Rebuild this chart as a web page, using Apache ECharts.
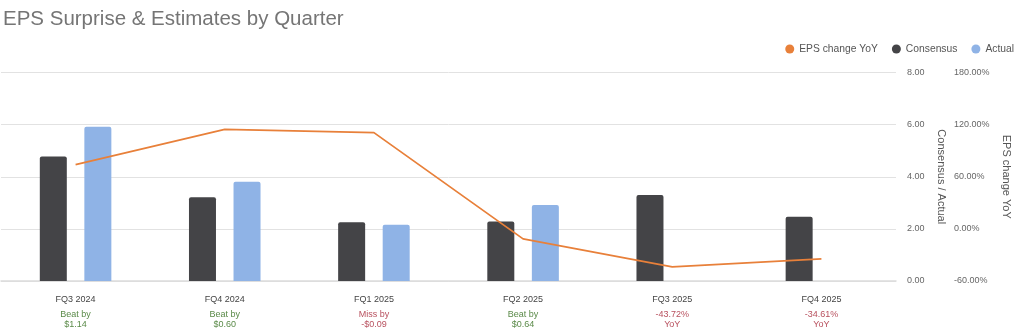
<!DOCTYPE html>
<html>
<head>
<meta charset="utf-8">
<script src="https://cdn.jsdelivr.net/npm/echarts@6/dist/echarts.min.js"></script>
<style>
  html, body { margin: 0; padding: 0; background: #fff; }
  #chart { width: 1024px; height: 336px; }
</style>
</head>
<body>
<div id="chart"></div>
<script>
// Quarterly EPS: consensus estimate, reported actual, and year-over-year change
const quarters = ['FQ3 2024', 'FQ4 2024', 'FQ1 2025', 'FQ2 2025', 'FQ3 2025', 'FQ4 2025'];
const consensus = [4.78, 3.21, 2.25, 2.28, 3.30, 2.47];
const actual = [5.92, 3.81, 2.16, 2.92, null, null];
const epsChangeYoY = [74.0, 114.6, 110.8, -11.5, -43.72, -34.61];

const leftTicks = { min: 0, max: 8, interval: 2 };
const rightTicks = { min: -60, max: 180, interval: 60 };

// Under each quarter: surprise vs. consensus if reported, otherwise the YoY change
function subLabel(i) {
  if (actual[i] != null) {
    const diff = Math.round((actual[i] - consensus[i]) * 100) / 100;
    const money = (diff < 0 ? '-$' : '$') + Math.abs(diff).toFixed(2);
    return diff >= 0 ? '{g|Beat by}\n{g|' + money + '}' : '{r|Miss by}\n{r|' + money + '}';
  }
  return '{r|' + epsChangeYoY[i].toFixed(2) + '%}\n{r|YoY}';
}

const chart = echarts.init(document.getElementById('chart'), null, { renderer: 'canvas' });
const font = 'Liberation Sans, Arial, sans-serif';

chart.setOption({
  animation: false,
  textStyle: { fontFamily: font },
  title: {
    text: 'EPS Surprise & Estimates by Quarter',
    left: -2, top: 4,
    textStyle: { fontFamily: font, fontSize: 20.5, fontWeight: 'normal', color: '#757575' }
  },
  legend: {
    right: 5, top: 39,
    icon: 'circle', itemWidth: 9, itemHeight: 9, itemGap: 14,
    textStyle: { fontFamily: font, fontSize: 10.3, color: '#555' },
    data: ['EPS change YoY', 'Consensus', 'Actual']
  },
  grid: { left: 1, right: 128, top: 72.5, bottom: 55 },
  xAxis: {
    type: 'category',
    data: quarters,
    axisTick: { show: false },
    axisLine: { lineStyle: { color: '#dcdcdc', width: 1.5 } },
    axisLabel: {
      margin: 9,
      interval: 0,
      formatter: (v, i) => '{c|' + v + '}\n' + subLabel(i),
      rich: {
        c: { fontFamily: font, fontSize: 9, color: '#444', lineHeight: 20 },
        g: { fontFamily: font, fontSize: 9, color: '#5a8a48', lineHeight: 10 },
        r: { fontFamily: font, fontSize: 9, color: '#b8505e', lineHeight: 10 }
      }
    }
  },
  yAxis: [
    {
      type: 'value',
      position: 'right',
      min: leftTicks.min, max: leftTicks.max, interval: leftTicks.interval,
      name: 'Consensus / Actual',
      nameLocation: 'middle', nameRotate: -90, nameGap: 36,
      nameTextStyle: { fontFamily: font, fontSize: 11, color: '#555' },
      axisLine: { show: false }, axisTick: { show: false },
      axisLabel: { margin: 11, fontSize: 9, color: '#666', formatter: v => v.toFixed(2) },
      splitLine: { lineStyle: { color: '#e2e2e2', width: 1 } }
    },
    {
      type: 'value',
      position: 'right',
      offset: 47,
      min: rightTicks.min, max: rightTicks.max, interval: rightTicks.interval,
      name: 'EPS change YoY',
      nameLocation: 'middle', nameRotate: -90, nameGap: 55,
      nameTextStyle: { fontFamily: font, fontSize: 11, color: '#555' },
      axisLine: { show: false }, axisTick: { show: false },
      axisLabel: { margin: 11, fontSize: 9, color: '#666', formatter: v => v.toFixed(2) + '%' },
      splitLine: { show: false }
    }
  ],
  series: [
    {
      name: 'Consensus', type: 'bar', yAxisIndex: 0,
      data: consensus, barWidth: 27, barGap: '65%',
      itemStyle: { color: '#444447', borderRadius: [2, 2, 0, 0] }
    },
    {
      name: 'Actual', type: 'bar', yAxisIndex: 0,
      data: actual, barWidth: 27,
      itemStyle: { color: '#8fb3e6', borderRadius: [2, 2, 0, 0] }
    },
    {
      name: 'EPS change YoY', type: 'line', yAxisIndex: 1,
      data: epsChangeYoY, showSymbol: false, symbol: 'circle',
      lineStyle: { color: '#e8803a', width: 1.8 },
      itemStyle: { color: '#e8803a' },
      z: 5
    }
  ]
});
</script>
</body>
</html>
